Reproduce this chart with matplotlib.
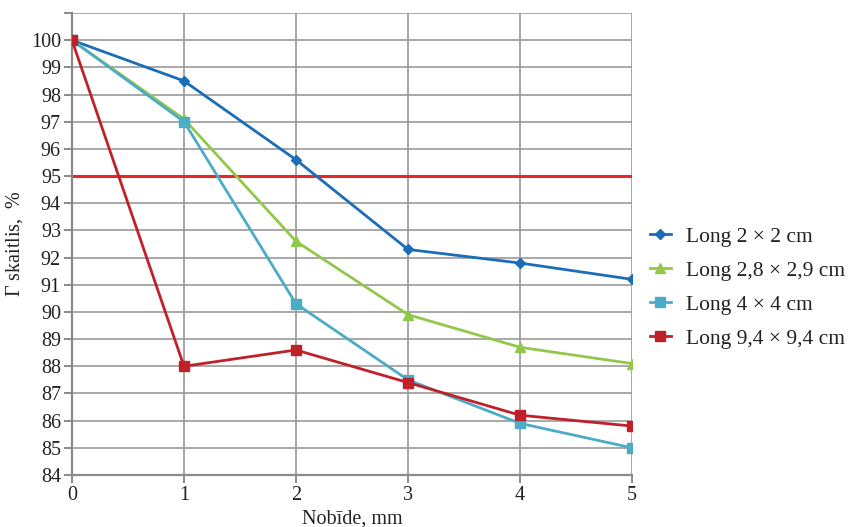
import matplotlib
matplotlib.use("Agg")
import matplotlib.pyplot as plt

plt.rcParams["font.family"] = ["Liberation Serif", "DejaVu Serif"]
plt.rcParams["mathtext.fontset"] = "custom"
plt.rcParams["mathtext.rm"] = "Liberation Serif"
plt.rcParams["mathtext.it"] = "Liberation Serif:italic"

x = [0, 1, 2, 3, 4, 5]
labels = ["Long 2 × 2 cm", "Long 2,8 × 2,9 cm", "Long 4 × 4 cm", "Long 9,4 × 9,4 cm"]
s_2x2 = [100, 98.5, 95.6, 92.3, 91.8, 91.2]
s_28x29 = [100, 97.1, 92.6, 89.9, 88.7, 88.1]
s_4x4 = [100, 97.0, 90.3, 87.5, 85.9, 85.0]
s_94x94 = [100, 88.0, 88.6, 87.4, 86.2, 85.8]
threshold = 95

yticks = list(range(84, 102))
ytick_labels = [str(v) if v <= 100 else "" for v in yticks]

fig = plt.figure(figsize=(8.56, 5.27), dpi=100)
ax = fig.add_axes([0.0841, 0.0987, 0.6542, 0.8766])

ax.axhline(threshold, color="#e8262a", lw=2.2, zorder=2)

series = [
    (s_2x2, "#1b6db8", "D", 5),
    (s_28x29, "#92c84a", "^", 7),
    (s_4x4, "#4bacc6", "s", 7),
    (s_94x94, "#c0202a", "s", 7),
]
for name, (data, color, marker, ms) in zip(labels, series):
    ax.plot(x, data, color=color, lw=2, marker=marker, ms=ms,
            markeredgecolor=color, label=name, zorder=3)

ax.set_xlim(0, 5)
ax.set_ylim(84, 101)
ax.set_xticks(x)
ax.set_yticks(yticks)
ax.set_yticklabels(ytick_labels)
ax.grid(True, color="#9a9a9a", lw=1.2, zorder=0)
ax.set_axisbelow(True)
for side in ["top", "right"]:
    ax.spines[side].set_visible(False)
for side in ["left", "bottom"]:
    ax.spines[side].set_color("#8a8a8a")
    ax.spines[side].set_linewidth(1.6)
ax.tick_params(axis="both", colors="#8a8a8a", length=6, width=1.4,
               labelsize=14.5, labelcolor="#222222", direction="out", pad=2)

ax.set_xlabel("Nobīde, mm", fontsize=14.5, color="#222222", labelpad=3)
ax.set_ylabel(r"$\mathit{\Gamma}$ skaitlis,  %", fontsize=14.5, color="#222222", labelpad=4)

ax.legend(loc="center left", bbox_to_anchor=(0.997, 0.405), frameon=False,
          fontsize=15.5, handlelength=1.0, handletextpad=0.7, labelspacing=0.65,
          labelcolor="#222222")

fig.savefig("out.png", dpi=100)
